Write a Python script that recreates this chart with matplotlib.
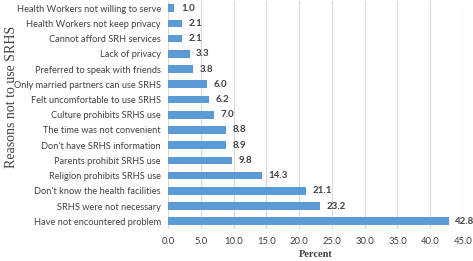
import matplotlib
matplotlib.use("Agg")
import matplotlib.pyplot as plt

categories = ["Have not encountered problem", "SRHS were not necessary", "Don't know the health facilities",
              "Religion prohibits SRHS use", "Parents prohibit SRHS use", "Don't have SRHS information",
              "The time was not convenient", "Culture prohibits SRHS use", "Felt uncomfortable to use SRHS",
              "Only married partners can use SRHS", "Preferred to speak with friends", "Lack of privacy",
              "Cannot afford SRH services", "Health Workers not keep privacy", "Health Workers not willing to serve"]
values = [42.8, 23.2, 21.1, 14.3, 9.8, 8.9, 8.8, 7.0, 6.2, 6.0, 3.8, 3.3, 2.1, 2.1, 1.0]
xticks = [0, 5, 10, 15, 20, 25, 30, 35, 40, 45]

fig = plt.figure(figsize=(4.73, 2.61), dpi=100)
ax = fig.add_axes([0.355, 0.123, 0.624, 0.875])
y = list(range(len(categories)))
ax.barh(y, values, height=0.5, color="#5B9BD5", zorder=3)
ax.set_ylim(-0.5, len(categories) - 0.5)
ax.set_xlim(0, 45)
ax.set_xticks(xticks)
ax.set_xticklabels([f"{t:.1f}" for t in xticks], fontsize=6.8, color="#404040", family="Lato")
ax.set_yticks(y)
ax.set_yticklabels(categories, fontsize=6.7, color="#404040", family="Lato")
ax.tick_params(length=0, pad=5)
ax.tick_params(axis="x", pad=6)
for s in ax.spines.values():
    s.set_visible(False)
ax.grid(axis="x", color="#D9D9D9", linewidth=0.8, zorder=0)
for yi, v in zip(y, values):
    ax.text(v + 1.0, yi, f"{v:.1f}", va="center", ha="left", fontsize=7, fontweight="bold",
            color="#404040", family="Lato", clip_on=False)
ax.set_xlabel("Percent", family="Liberation Serif", fontweight="bold", fontsize=7.5, color="#404040", labelpad=3)
fig.text(0.024, 0.63, "Reasons not to use SRHS", rotation=90, va="center", ha="center",
         family="Liberation Serif", fontsize=10, color="#404040")
fig.savefig("out.png", dpi=100)
